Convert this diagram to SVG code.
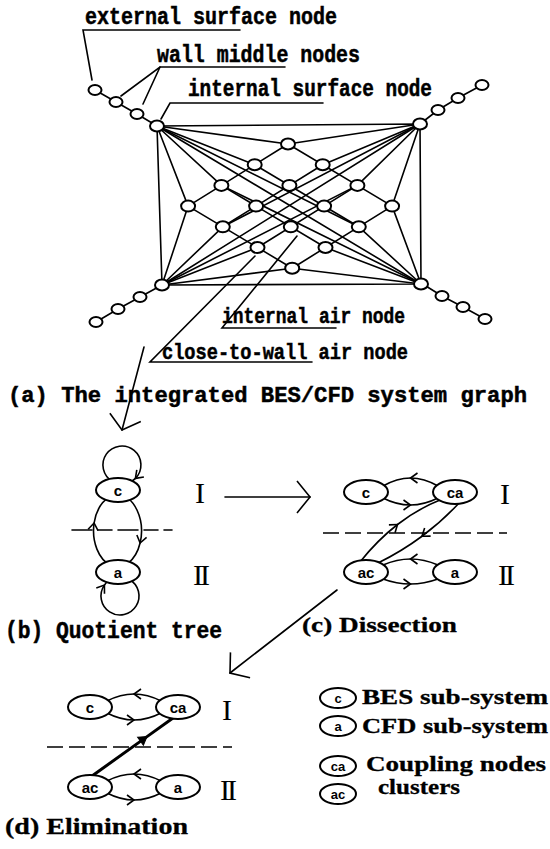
<svg xmlns="http://www.w3.org/2000/svg" width="550" height="849" viewBox="0 0 550 849">
<style>
.ln{stroke:#000;stroke-width:1.6;fill:none;stroke-linecap:round}
.th{stroke:#000;stroke-width:3;fill:none}
.dash{stroke:#000;stroke-width:1.6;fill:none;stroke-dasharray:16 6}
.nd{fill:#fff;stroke:#000;stroke-width:2}
.en{fill:#fff;stroke:#000;stroke-width:2}
.mono{font-family:"Liberation Mono","DejaVu Sans Mono",monospace;font-weight:bold;fill:#000;stroke:#000;stroke-width:0.5}
.ser{font-family:"Liberation Serif","DejaVu Serif",serif;font-weight:bold;fill:#000;stroke:#000;stroke-width:0.3}
.rn{font-family:"Liberation Serif","DejaVu Serif",serif;font-size:30px;text-anchor:middle;fill:#000}
.lb{font-family:"Liberation Sans",Arial,sans-serif;font-size:15px;font-weight:bold;text-anchor:middle;dominant-baseline:central;fill:#000}
.lbs{font-family:"Liberation Sans",Arial,sans-serif;font-size:13px;font-weight:bold;text-anchor:middle;dominant-baseline:central;fill:#000}
</style>
<defs>
<marker id="ch" viewBox="-10 -7 12 14" markerWidth="12" markerHeight="14" refX="0" refY="0" orient="auto" markerUnits="userSpaceOnUse">
<path d="M-7,-5 L0,0 L-7,5" fill="none" stroke="#000" stroke-width="1.6"/>
</marker>
<marker id="chk" viewBox="-10 -7 12 14" markerWidth="12" markerHeight="14" refX="0" refY="0" orient="auto" markerUnits="userSpaceOnUse">
<path d="M-8,-5 L0,0 L-8,5 Z" fill="#000" stroke="#000" stroke-width="1"/>
</marker>
<marker id="big" viewBox="-16 -18 18 36" markerWidth="18" markerHeight="36" refX="0" refY="0" orient="auto" markerUnits="userSpaceOnUse">
<path d="M-13,-16 L0,0 L-13,16" fill="none" stroke="#000" stroke-width="1.6"/>
</marker>
</defs>

<!-- ===== connectors ===== -->
<g id="connectors">
  <!-- top graph: wall chains -->
  <polyline class="ln" points="95,90 116,102 137,114 157,126"/>
  <polyline class="ln" points="420,124 438,110 458,98 482,85"/>
  <polyline class="ln" points="162,285 140,297 118,309 96,322"/>
  <polyline class="ln" points="421,283 442,296 463,307 485,319"/>
  <!-- room rectangle -->
  <polygon class="ln" points="157,126 420,124 421,284 162,285"/>
  <!-- lattice lines -->
  <line class="ln" x1="288" y1="144" x2="392.1" y2="206.1"/>
  <line class="ln" x1="254.7" y1="164.7" x2="358.8" y2="226.8"/>
  <line class="ln" x1="221.4" y1="185.4" x2="325.5" y2="247.5"/>
  <line class="ln" x1="188.1" y1="206.1" x2="292.2" y2="268.2"/>
  <line class="ln" x1="288" y1="144" x2="188.1" y2="206.1"/>
  <line class="ln" x1="322.7" y1="164.7" x2="222.8" y2="226.8"/>
  <line class="ln" x1="357.4" y1="185.4" x2="257.5" y2="247.5"/>
  <line class="ln" x1="392.1" y1="206.1" x2="292.2" y2="268.2"/>
  <!-- TL fan -->
  <line class="ln" x1="157" y1="126" x2="288" y2="144"/>
  <line class="ln" x1="157" y1="126" x2="254.7" y2="164.7"/>
  <line class="ln" x1="157" y1="126" x2="221.4" y2="185.4"/>
  <line class="ln" x1="157" y1="126" x2="188.1" y2="206.1"/>
  <line class="ln" x1="157" y1="126" x2="358.8" y2="226.8"/>
  <line class="ln" x1="157" y1="126" x2="421" y2="284"/>
  <!-- TR fan -->
  <line class="ln" x1="420" y1="124" x2="288" y2="144"/>
  <line class="ln" x1="420" y1="124" x2="322.7" y2="164.7"/>
  <line class="ln" x1="420" y1="124" x2="357.4" y2="185.4"/>
  <line class="ln" x1="420" y1="124" x2="392.1" y2="206.1"/>
  <line class="ln" x1="420" y1="124" x2="222.8" y2="226.8"/>
  <line class="ln" x1="420" y1="124" x2="162" y2="285"/>
  <!-- BL fan -->
  <line class="ln" x1="162" y1="285" x2="188.1" y2="206.1"/>
  <line class="ln" x1="162" y1="285" x2="222.8" y2="226.8"/>
  <line class="ln" x1="162" y1="285" x2="257.5" y2="247.5"/>
  <line class="ln" x1="162" y1="285" x2="292.2" y2="268.2"/>
  <line class="ln" x1="162" y1="285" x2="357.4" y2="185.4"/>
  <!-- BR fan -->
  <line class="ln" x1="421" y1="284" x2="392.1" y2="206.1"/>
  <line class="ln" x1="421" y1="284" x2="358.8" y2="226.8"/>
  <line class="ln" x1="421" y1="284" x2="325.5" y2="247.5"/>
  <line class="ln" x1="421" y1="284" x2="292.2" y2="268.2"/>
  <line class="ln" x1="421" y1="284" x2="221.4" y2="185.4"/>
  <!-- label leaders -->
  <polyline class="ln" points="240,30 83,30 92,80"/>
  <polyline class="ln" points="285,67 160,67 121,96"/>
  <line class="ln" x1="160" y1="67" x2="143" y2="104"/>
  <polyline class="ln" points="323,103 170,103 161,119"/>
  <polyline class="ln" points="336,328 222,328 297,236"/>
  <polyline class="ln" points="312,362 150,362 255,256"/>

  <!-- step arrows -->
  <line class="ln" x1="144" y1="347" x2="122" y2="430" marker-end="url(#big)"/>
  <line class="ln" x1="225" y1="497" x2="310" y2="497" marker-end="url(#big)"/>
  <line class="ln" x1="337" y1="590" x2="230" y2="673" marker-end="url(#big)"/>

  <!-- (b) quotient tree -->
  <path class="ln" d="M112.5,481.5 A19,19 0 1 1 135.4,478.4 A19,19 0 0 1 125.3,483.7" marker-mid="url(#ch)"/>
  <path class="ln" d="M117.5,495 A24,36 0 0 1 140.1,543 A24,36 0 0 1 94.1,523 A24,36 0 0 1 117.5,495" marker-mid="url(#ch)"/>
  <path class="ln" d="M129.5,579.5 A19,19 0 1 1 104.4,585.1 A19,19 0 0 1 116.7,577.3" marker-mid="url(#ch)"/>
  <line class="ln" x1="72" y1="530" x2="172" y2="530" style="stroke-dasharray:20 6 14 6"/>

  <!-- (c) dissection -->
  <path class="ln" d="M438,486 Q424,478 410.5,478 Q397,478 383,486" marker-mid="url(#ch)"/>
  <path class="ln" d="M383,498 Q396.5,505 410.5,505 Q424,505 438,498" marker-mid="url(#ch)"/>
  <path class="ln" d="M438,565 Q424,559 410.5,559 Q397,559 383,565" marker-mid="url(#ch)"/>
  <path class="ln" d="M383,579 Q396.5,584 410.5,584 Q424,584 438,579" marker-mid="url(#ch)"/>
  <path class="ln" d="M360,562 Q377.5,540 397.5,524.5 Q417.5,509 440,500" marker-mid="url(#ch)"/>
  <path class="ln" d="M460,502 Q442.5,521 422,536.25 Q401.5,551.5 378,563" marker-mid="url(#ch)"/>
  <line class="dash" x1="323" y1="533" x2="507" y2="533"/>

  <!-- (d) elimination -->
  <path class="ln" d="M161,701 Q147.5,694 134,694 Q120.5,694 107,701" marker-mid="url(#ch)"/>
  <path class="ln" d="M107,713 Q120.5,720 134,720 Q147.5,720 161,713" marker-mid="url(#ch)"/>
  <path class="ln" d="M161,781 Q147.5,774 134,774 Q120.5,774 107,781" marker-mid="url(#ch)"/>
  <path class="ln" d="M107,793 Q120.5,800 134,800 Q147.5,800 161,793" marker-mid="url(#ch)"/>
  <polyline class="th" points="92,776 147,736.6 173,718" marker-mid="url(#chk)"/>
  <line class="dash" x1="47" y1="747" x2="232" y2="747"/>
</g>

<!-- ===== top graph nodes ===== -->
<g id="wall-nodes-ul"><ellipse class="nd" cx="95" cy="90" rx="6.5" ry="5"/><ellipse class="nd" cx="116" cy="102" rx="6.5" ry="5"/><ellipse class="nd" cx="137" cy="114" rx="6.5" ry="5"/></g>
<g id="wall-nodes-ur"><ellipse class="nd" cx="438" cy="110" rx="6.5" ry="5"/><ellipse class="nd" cx="458" cy="98" rx="6.5" ry="5"/><ellipse class="nd" cx="482" cy="85" rx="6.5" ry="5"/></g>
<g id="wall-nodes-ll"><ellipse class="nd" cx="140" cy="297" rx="6.5" ry="5"/><ellipse class="nd" cx="118" cy="309" rx="6.5" ry="5"/><ellipse class="nd" cx="96" cy="322" rx="6.5" ry="5"/></g>
<g id="wall-nodes-lr"><ellipse class="nd" cx="442" cy="296" rx="6.5" ry="5"/><ellipse class="nd" cx="463" cy="307" rx="6.5" ry="5"/><ellipse class="nd" cx="485" cy="319" rx="6.5" ry="5"/></g>
<g id="surface-tl"><ellipse class="nd" cx="157" cy="126" rx="7" ry="5.5"/></g>
<g id="surface-tr"><ellipse class="nd" cx="420" cy="124" rx="7" ry="5.5"/></g>
<g id="surface-bl"><ellipse class="nd" cx="162" cy="285" rx="7" ry="5.5"/></g>
<g id="surface-br"><ellipse class="nd" cx="421" cy="284" rx="7" ry="5.5"/></g>
<g id="air-nodes">
  <ellipse class="nd" cx="288" cy="144" rx="7" ry="5.5"/>
  <ellipse class="nd" cx="322.7" cy="164.7" rx="7" ry="5.5"/>
  <ellipse class="nd" cx="357.4" cy="185.4" rx="7" ry="5.5"/>
  <ellipse class="nd" cx="392.1" cy="206.1" rx="7" ry="5.5"/>
  <ellipse class="nd" cx="254.7" cy="164.7" rx="7" ry="5.5"/>
  <ellipse class="nd" cx="289.4" cy="185.4" rx="7" ry="5.5"/>
  <ellipse class="nd" cx="324.1" cy="206.1" rx="7" ry="5.5"/>
  <ellipse class="nd" cx="358.8" cy="226.8" rx="7" ry="5.5"/>
  <ellipse class="nd" cx="221.4" cy="185.4" rx="7" ry="5.5"/>
  <ellipse class="nd" cx="256.1" cy="206.1" rx="7" ry="5.5"/>
  <ellipse class="nd" cx="290.8" cy="226.8" rx="7" ry="5.5"/>
  <ellipse class="nd" cx="325.5" cy="247.5" rx="7" ry="5.5"/>
  <ellipse class="nd" cx="188.1" cy="206.1" rx="7" ry="5.5"/>
  <ellipse class="nd" cx="222.8" cy="226.8" rx="7" ry="5.5"/>
  <ellipse class="nd" cx="257.5" cy="247.5" rx="7" ry="5.5"/>
  <ellipse class="nd" cx="292.2" cy="268.2" rx="7" ry="5.5"/>
</g>

<!-- top labels -->
<g id="labels-top">
  <text class="mono" x="85" y="24" font-size="23" textLength="252" lengthAdjust="spacingAndGlyphs">external surface node</text>
  <text class="mono" x="157" y="62" font-size="23" textLength="203" lengthAdjust="spacingAndGlyphs">wall middle nodes</text>
  <text class="mono" x="188" y="96" font-size="23" textLength="244" lengthAdjust="spacingAndGlyphs">internal surface node</text>
  <text class="mono" x="222" y="323" font-size="22" textLength="183" lengthAdjust="spacingAndGlyphs">internal air node</text>
  <text class="mono" x="162" y="359" font-size="22" textLength="246" lengthAdjust="spacingAndGlyphs">close-to-wall air node</text>
  <text class="mono" x="8" y="402" font-size="22" textLength="519" lengthAdjust="spacingAndGlyphs">(a) The integrated BES/CFD system graph</text>
</g>

<!-- (b) nodes -->
<g id="b-c"><ellipse class="en" cx="118" cy="490" rx="22" ry="12"/><text class="lb" x="118" y="490">c</text></g>
<g id="b-a"><ellipse class="en" cx="118" cy="572" rx="22" ry="12"/><text class="lb" x="118" y="572">a</text></g>
<g id="b-labels">
  <text class="rn" x="200" y="503">I</text>
  <text class="rn" x="200" y="585" letter-spacing="-3">II</text>
  <text class="mono" x="5" y="638" font-size="24" textLength="217" lengthAdjust="spacingAndGlyphs">(b) Quotient tree</text>
</g>

<!-- (c) nodes -->
<g id="c-c"><ellipse class="en" cx="366" cy="492" rx="22" ry="12"/><text class="lb" x="366" y="492">c</text></g>
<g id="c-ca"><ellipse class="en" cx="455" cy="492" rx="22" ry="12"/><text class="lb" x="455" y="492">ca</text></g>
<g id="c-ac"><ellipse class="en" cx="366" cy="572" rx="22" ry="12"/><text class="lb" x="366" y="572">ac</text></g>
<g id="c-a"><ellipse class="en" cx="455" cy="572" rx="22" ry="12"/><text class="lb" x="455" y="572">a</text></g>
<g id="c-labels">
  <text class="rn" x="505" y="504">I</text>
  <text class="rn" x="505" y="585" letter-spacing="-3">II</text>
  <text class="ser" x="302" y="632" font-size="22" textLength="155" lengthAdjust="spacingAndGlyphs">(c) Dissection</text>
</g>

<!-- (d) nodes -->
<g id="d-c"><ellipse class="en" cx="90" cy="707" rx="22" ry="12"/><text class="lb" x="90" y="707">c</text></g>
<g id="d-ca"><ellipse class="en" cx="178" cy="707" rx="22" ry="12"/><text class="lb" x="178" y="707">ca</text></g>
<g id="d-ac"><ellipse class="en" cx="90" cy="787" rx="22" ry="12"/><text class="lb" x="90" y="787">ac</text></g>
<g id="d-a"><ellipse class="en" cx="178" cy="787" rx="22" ry="12"/><text class="lb" x="178" y="787">a</text></g>
<g id="d-labels">
  <text class="rn" x="227" y="720">I</text>
  <text class="rn" x="227" y="800" letter-spacing="-3">II</text>
  <text class="ser" x="5" y="834" font-size="24" textLength="183" lengthAdjust="spacingAndGlyphs">(d) Elimination</text>
</g>

<!-- legend -->
<g id="legend-c"><ellipse class="en" cx="338" cy="698" rx="18" ry="10"/><text class="lbs" x="338" y="698">c</text><text class="ser" x="362" y="704" font-size="21" textLength="186" lengthAdjust="spacingAndGlyphs">BES sub-system</text></g>
<g id="legend-a"><ellipse class="en" cx="338" cy="726" rx="18" ry="10"/><text class="lbs" x="338" y="726">a</text><text class="ser" x="362" y="733" font-size="21" textLength="186" lengthAdjust="spacingAndGlyphs">CFD sub-system</text></g>
<g id="legend-ca"><ellipse class="en" cx="338" cy="766" rx="18" ry="10"/><text class="lbs" x="338" y="766">ca</text><text class="ser" x="366" y="771" font-size="21" textLength="180" lengthAdjust="spacingAndGlyphs">Coupling nodes</text></g>
<g id="legend-ac"><ellipse class="en" cx="338" cy="794" rx="18" ry="10"/><text class="lbs" x="338" y="794">ac</text><text class="ser" x="378" y="794" font-size="21" textLength="82" lengthAdjust="spacingAndGlyphs">clusters</text></g>
</svg>
